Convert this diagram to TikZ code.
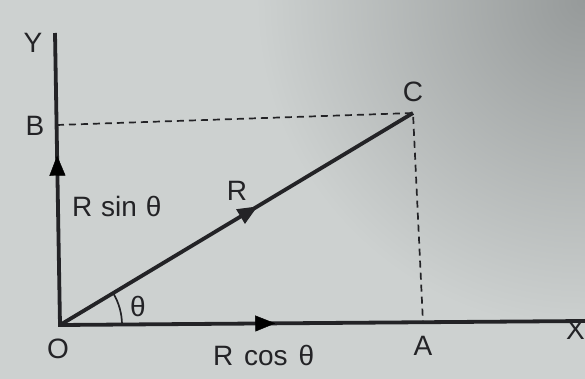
\documentclass[tikz,border=0pt]{standalone}
\usepackage{fontspec}
\setmainfont{Liberation Sans}
\usetikzlibrary{arrows.meta,decorations.markings}
\definecolor{ink}{RGB}{35,35,38}
\definecolor{paper}{RGB}{205,209,208}
\definecolor{paperdark}{RGB}{150,154,154}
\tikzset{
  axis/.style={draw=ink,line width=3.8pt},
  vec/.style={draw=ink,line width=3.8pt},
  guide/.style={draw=ink,line width=1.7pt,dash pattern=on 7pt off 5pt},
  lbl/.style={text=ink,font=\fontsize{28}{30}\selectfont,inner sep=0pt},
  midarrow/.style={postaction={decorate},decoration={markings,
     mark=at position #1 with {\arrow{Triangle[length=20pt,width=16pt]}}}}
}
\begin{document}
\begin{tikzpicture}[x=1pt,y=-1pt]
\fill[paper] (0,0) rectangle (585,379);
\begin{scope}
\clip (0,0) rectangle (585,379);
\shade[inner color=paperdark, outer color=paper] (585,0) circle[radius=330pt];
\end{scope}
\useasboundingbox (0,0) rectangle (585,379);
\coordinate (O) at (60,325);
\coordinate (Ytop) at (55,33);
\coordinate (Xend) at (585,321);
\coordinate (C) at (413,113);
\coordinate (A) at (423,323);
\coordinate (B) at (57,125);
% axes
\draw[axis] (Ytop) -- (O) -- (Xend);
\path[midarrow=0.58] (O) -- (Ytop);
\path[midarrow=0.41] (O) -- (Xend);
% resultant
\draw[vec,midarrow=0.56] (O) -- (C);
% dashed guides
\draw[guide] (B) -- (C) -- (A);
% angle arc
\draw[ink,line width=1.7pt] ([xshift=62pt]O) arc[start angle=0,end angle=31,radius=62pt];
% labels
\node[lbl] (ly) at (33,43) {Y};
\node[lbl] (lb) at (35,126) {B};
\node[lbl] (lc) at (413,92) {C};
\node[lbl] (lr) at (237,191) {R};
\node[lbl,anchor=west] (ls) at (72,206) {R\hspace{1pt} sin\hspace{1pt} θ};
\node[lbl] (lt) at (138,306) {θ};
\node[lbl] (lo) at (58,349) {O};
\node[lbl,anchor=west] (lcos) at (213,355) {R\hspace{3pt} cos\hspace{3pt} θ};
\node[lbl] (la) at (423,346) {A};
\node[lbl,anchor=east] (lx) at (585,330) {X};
\end{tikzpicture}
\end{document}
